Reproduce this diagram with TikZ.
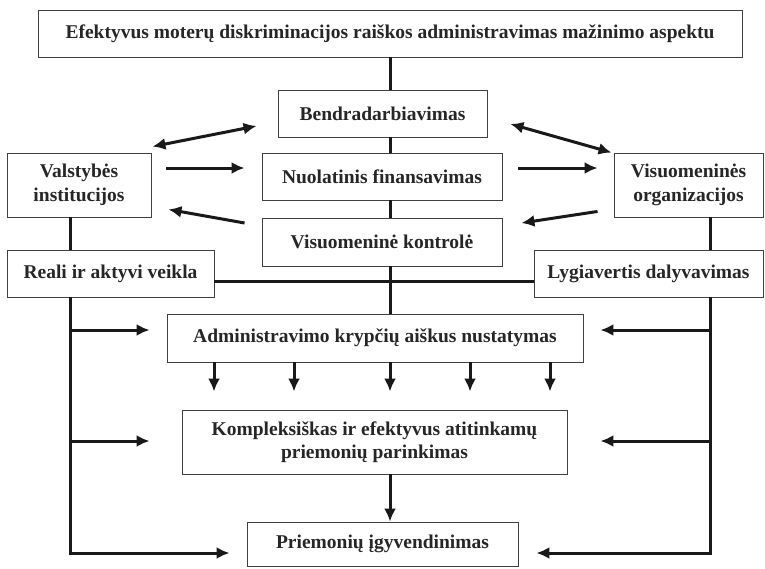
\documentclass[tikz,border=0pt]{standalone}
\usepackage{fontspec}
\setmainfont{Liberation Serif}
\usetikzlibrary{arrows.meta}

\begin{document}
\begin{tikzpicture}[x=1pt,y=-1pt,
	box/.style={draw=black!75,line width=0.9pt,fill=white,inner sep=0pt,align=center,text=black!85,font=\fontsize{19.5}{23.5}\selectfont\bfseries},
	link/.style={line width=3pt,black!90},
	arr/.style={link,->,>={Latex[length=13pt,width=12pt]}},
	dbl/.style={link,<->,>={Latex[length=13pt,width=12pt]}}]
	\useasboundingbox (0,0) rectangle (765,568);
	% boxes
	\node[box,minimum width=704pt,minimum height=47pt] (goal)at(390,33.5) {Efektyvus moterų diskriminacijos raiškos administravimas mažinimo aspektu};
	\node[box,minimum width=209pt,minimum height=47pt] (bendr)at(382.5,113.5) {Bendradarbiavimas};
	\node[box,minimum width=240pt,minimum height=47pt] (fin)at(382,176.5) {Nuolatinis finansavimas};
	\node[box,minimum width=240pt,minimum height=48pt] (kontr)at(382,242) {Visuomeninė kontrolė};
	\node[box,minimum width=144pt,minimum height=64pt] (valst)at(79,185) {Valstybės\\institucijos};
	\node[box,minimum width=149pt,minimum height=64pt] (org)at(688.5,185) {Visuomeninės\\organizacijos};
	\node[box,minimum width=207pt,minimum height=47pt] (veikla)at(110.5,273.5) {Reali ir aktyvi veikla};
	\node[box,minimum width=229pt,minimum height=47pt] (dalyv)at(648.5,273.5) {Lygiavertis dalyvavimas};
	\node[box,minimum width=416pt,minimum height=48pt] (kryp)at(375,338) {Administravimo krypčių aiškus nustatymas};
	\node[box,minimum width=385pt,minimum height=64pt] (parink)at(374.5,442) {Kompleksiškas ir efektyvus atitinkamų\\priemonių parinkimas};
	\node[box,minimum width=271pt,minimum height=44pt] (igyv)at(382.5,544) {Priemonių įgyvendinimas};
	% rails and rows
	\coordinate (hub)at(390,281);
	\coordinate (lrail)at(70,553);
	\coordinate (rrail)at(710,553);
	\coordinate (row1)at(0,168);
	\coordinate (row2)at(0,330);
	\coordinate (row3)at(0,441);
	% spine
	\draw[link] (goal.south -| hub) -- (bendr.north -| hub);
	\draw[link] (bendr.south -| hub) -- (fin.north -| hub);
	\draw[link] (fin.south -| hub) -- (kontr.north -| hub);
	\draw[link] (kontr.south -| hub) -- (kryp.north -| hub);
	\draw[link] (veikla.east |- hub) -- (dalyv.west |- hub);
	% top arrows
	\draw[dbl] ([xshift=1pt,yshift=6pt]valst.north east) -- ([xshift=-21pt,yshift=-12.5pt]bendr.west);
	\draw[dbl] ([xshift=23pt,yshift=-10.5pt]bendr.east) -- ([xshift=-2pt]org.north west);
	\draw[arr,shorten <=15pt,shorten >=17pt] (valst.east |- row1) -- (fin.west |- row1);
	\draw[arr,shorten <=16pt,shorten >=16pt] (fin.east |- row1) -- (org.west |- row1);
	\draw[arr] ([xshift=-17pt,yshift=19pt]kontr.west) -- ([xshift=17pt,yshift=8pt]valst.south east);
	\draw[arr] ([xshift=-16pt,yshift=6pt]org.south west) -- ([xshift=19pt,yshift=19pt]kontr.east);
	% left rail
	\draw[link] (valst.south -| lrail) -- (veikla.north -| lrail);
	\draw[arr,shorten >=17pt] (veikla.south -| lrail) -- (lrail) -- (lrail -| igyv.west);
	\draw[arr,shorten >=17pt] (lrail |- row2) -- (kryp.west |- row2);
	\draw[arr,shorten >=32pt] (lrail |- row3) -- (parink.west |- row3);
	% right rail
	\draw[link] (org.south -| rrail) -- (dalyv.north -| rrail);
	\draw[arr,shorten >=18pt] (dalyv.south -| rrail) -- (rrail) -- (rrail -| igyv.east);
	\draw[arr,shorten >=17pt] (rrail |- row2) -- (kryp.east |- row2);
	\draw[arr,shorten >=33pt] (rrail |- row3) -- (parink.east |- row3);
	% down arrows
	\foreach \x in {214,294,390,470,550}
		\draw[arr,shorten >=18pt] (kryp.south -| \x,0) -- (parink.north -| \x,0);
	\draw[arr] (parink.south -| hub) -- (igyv.north -| hub);
\end{tikzpicture}
\end{document}
